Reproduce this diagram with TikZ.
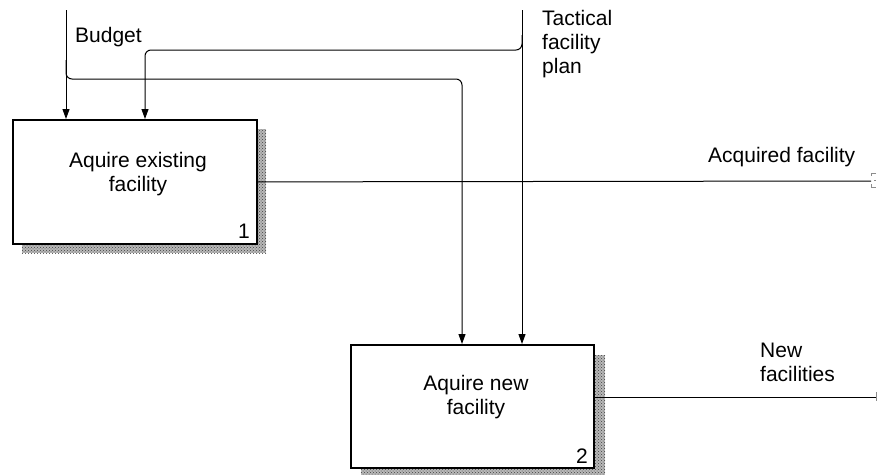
\documentclass[tikz,border=0pt]{standalone}
\usepackage{fontspec}
\setmainfont{Liberation Sans}
\usetikzlibrary{arrows.meta,patterns}
\begin{document}
\begin{tikzpicture}[x=1pt,y=-1pt,
  box/.style={draw,line width=1.8pt,fill=white,minimum width=244pt,minimum height=124pt,inner sep=0pt,anchor=north west},
  shadebase/.style={fill=black!28},
  shade/.style={pattern=crosshatch dots,pattern color=black!75},
  flow/.style={line width=1pt,-{Triangle[width=7pt,length=10pt]}},
  plain/.style={line width=1pt},
  lbl/.style={font=\fontsize{21}{24}\selectfont,inner sep=0pt},
  tunnel/.style={draw=black!45,line width=0.9pt},
]
\clip (0,0) rectangle (877,474);
\useasboundingbox (0,0) rectangle (877,474);

% shadows
\fill[shadebase] (22,129) rectangle (266,253);
\fill[shade] (22,129) rectangle (266,253);
\fill[shadebase] (361,355) rectangle (605,478);
\fill[shade] (361,355) rectangle (605,478);

% boxes
\node[box] (b1) at (12,119) {};
\node[box,minimum width=243pt,minimum height=123pt] (b2) at (350,344) {};

% box texts
\node[lbl,align=center,anchor=north] (t1) at (138,152) {Aquire existing\\facility};
\node[lbl,anchor=base east] (n1) at (250,238) {1};
\node[lbl,align=center,anchor=north] (t2) at (476,375) {Aquire new\\facility};
\node[lbl,anchor=base east] (n2) at (588,463) {2};

% coordinates
\coordinate (bs) at (66,10);
\coordinate (bj) at (66,60);
\coordinate (bc) at (462,79);
\coordinate (ts) at (522,10);
\coordinate (tj) at (522,35);
\coordinate (tc) at (145,50);
\coordinate (o1) at (871,181);
\coordinate (o2) at (877,397);

% controls
\draw[flow] (bs) -- (bs |- b1.north);
\draw[flow,rounded corners=6pt] (bj) |- (bc) -- (bc |- b2.north);
\draw[flow] (ts) -- (ts |- b2.north);
\draw[flow,rounded corners=6pt] (tj) |- (tc) -- (tc |- b1.north);

% outputs
\draw[plain] (b1.east) -- (o1);
\draw[plain] (b2.east |- o2) -- (o2);

% tunnel marks
\draw[tunnel] (876,173) -- (871,173) -- (871,176);
\draw[tunnel] (871,184) -- (871,187) -- (876,187);
\draw[tunnel] (874,180) -- (876,180);
\draw[tunnel] (876,392) -- (876,401);

% labels
\node[lbl,anchor=base west] (lb) at (75,42) {Budget};
\node[lbl,align=left,anchor=north west] (lt) at (542,10) {Tactical\\facility\\plan};
\node[lbl,anchor=base west] (la) at (708,162) {Acquired facility};
\node[lbl,align=left,anchor=north west] (ln) at (760,343) {New\\facilities};
\end{tikzpicture}
\end{document}
